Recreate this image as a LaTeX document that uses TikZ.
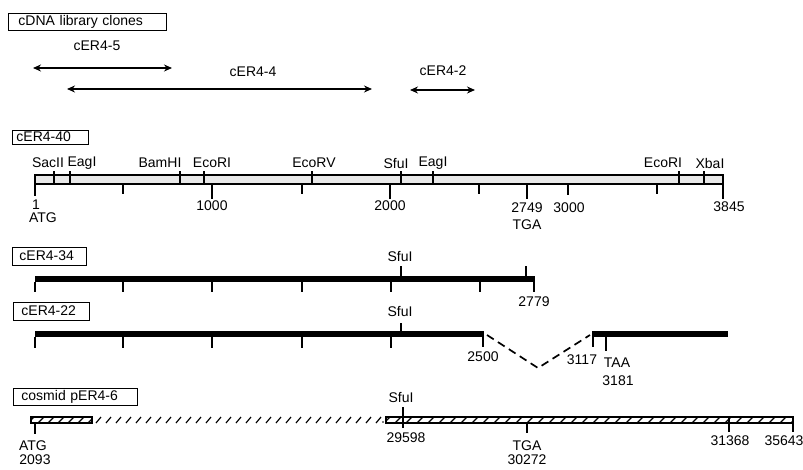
\documentclass[tikz,border=0pt]{standalone}
\usepackage{fontspec}
\setmainfont{Liberation Sans}
\usetikzlibrary{arrows.meta}
\begin{document}
\begin{tikzpicture}[x=1pt,y=-1pt,
  lbl/.style={font=\fontsize{14}{16}\selectfont, inner sep=0pt},
  tagbox/.style={draw, line width=0.9pt, font=\fontsize{14}{16}\selectfont, inner xsep=4pt, inner ysep=0pt, anchor=west, align=left},
  tk/.style={line width=1.5pt},
  clone/.style={line width=2pt, {Stealth[length=8pt,width=7pt]}-{Stealth[length=8pt,width=7pt]}},
  hatch/.style={line width=1.2pt},
]
\useasboundingbox (0,0) rectangle (803,469);

% ---------- cDNA library clones ----------
\node[tagbox, text width=150pt, minimum height=17pt] (lib) at (8,21.5) {\hspace*{6pt}cDNA library clones};
\node[lbl] (l45) at (97,46) {cER4-5};
\coordinate (a5l) at (33,68); \coordinate (a5r) at (172,68);
\draw[clone] (a5l) -- (a5r);
\node[lbl] (l44) at (253,72) {cER4-4};
\coordinate (a4l) at (67,89); \coordinate (a4r) at (372,89);
\draw[clone] (a4l) -- (a4r);
\node[lbl] (l42) at (443,71) {cER4-2};
\coordinate (a2l) at (410,90); \coordinate (a2r) at (475,90);
\draw[clone] (a2l) -- (a2r);

% ---------- cER4-40 ----------
\node[tagbox, text width=68pt, minimum height=14pt] (t40) at (12,137) {cER4-40};
\draw[line width=1.4pt, fill=gray!18] (35,175) rectangle (723,184);
\foreach \x in {54,70,180,204,312,401,433,679,704} \draw[tk] (\x,171) -- (\x,184);
\node[lbl] (sacII) at (48,163) {SacII};
\node[lbl] (eagI) at (82,163) {EagI};
\node[lbl] (bamHI) at (160,163) {BamHI};
\node[lbl] (ecoRI) at (212,163) {EcoRI};
\node[lbl] (ecoRV) at (314,163) {EcoRV};
\node[lbl] (sfuI) at (396,163) {SfuI};
\node[lbl] (eagIb) at (433,163) {EagI};
\node[lbl] (ecoRIb) at (663,163) {EcoRI};
\node[lbl] (xbaI) at (710,163) {XbaI};
\draw[tk] (35,175) -- (35,196);
\foreach \x in {123,302,479,657} \draw[tk] (\x,184) -- (\x,194);
\foreach \x in {212,390,527} \draw[tk] (\x,184) -- (\x,199);
\draw[tk] (568,184) -- (568,195);
\draw[tk] (723,175) -- (723,199);
\node[lbl] (n1) at (36,205) {1};
\node[lbl] (atg1) at (43,218) {ATG};
\node[lbl] (n1000) at (212,206) {1000};
\node[lbl] (n2000) at (390,206) {2000};
\node[lbl] (n2749) at (527,208) {2749};
\node[lbl] (tga1) at (527,225) {TGA};
\node[lbl] (n3000) at (569,208) {3000};
\node[lbl] (n3845) at (729,207) {3845};

% ---------- cER4-34 ----------
\node[tagbox, text width=66pt, minimum height=18pt] (t34) at (12,256) {\hspace*{3pt}cER4-34};
\fill (35,276) rectangle (534,282);
\node[lbl] (sfu34) at (400,256) {SfuI};
\draw[tk] (401,266) -- (401,276);
\draw[tk] (526,266) -- (526,276);
\foreach \x in {35,123,212,302,391,480} \draw[tk] (\x,282) -- (\x,292);
\draw[tk] (534,276) -- (534,292);
\node[lbl] (n2779) at (534,302) {2779};

% ---------- cER4-22 ----------
\node[tagbox, text width=68pt, minimum height=18pt] (t22) at (13,311) {\hspace*{4pt}cER4-22};
\fill (35,331) rectangle (483,337);
\fill (593,331) rectangle (728,337);
\node[lbl] (sfu22) at (400,311) {SfuI};
\draw[tk] (401,323) -- (401,331);
\foreach \x in {35,123,212,302,391} \draw[tk] (\x,337) -- (\x,348);
\draw[tk] (483,331) -- (483,347);
\draw[tk] (593,331) -- (593,347);
\draw[tk] (606,337) -- (606,351);
\coordinate (d1) at (487,335); \coordinate (d2) at (538,368); \coordinate (d3) at (590,335);
\draw[line width=1.7pt, dash pattern=on 8pt off 5pt] (d1) -- (d2) -- (d3);
\node[lbl] (n2500) at (483,357) {2500};
\node[lbl] (n3117) at (582,360) {3117};
\node[lbl] (taa) at (617,363) {TAA};
\node[lbl] (n3181) at (618,381) {3181};

% ---------- cosmid pER4-6 ----------
\node[tagbox, text width=116pt, minimum height=17pt] (tcos) at (13,397) {\hspace*{4pt}cosmid pER4-6};
\draw[line width=1.4pt] (31,417) rectangle (92,423);
\begin{scope}
  \clip (31,417) rectangle (92,423);
  \foreach \x in {28,38,...,98} \draw[hatch] (\x,423) -- (\x+6,417);
\end{scope}
\foreach \x in {96,106,...,376} \draw[hatch] (\x,423) -- (\x+5,417);
\fill (383,422) circle (0.8pt);
\draw[line width=1.4pt] (386,417) rectangle (793,423);
\begin{scope}
  \clip (386,417) rectangle (793,423);
  \foreach \x in {384,395,...,800} \draw[hatch] (\x,423) -- (\x+6,417);
\end{scope}
\draw[tk] (35,423) -- (35,434);
\node[lbl] (atg2) at (33,446) {ATG};
\node[lbl] (n2093) at (35,460) {2093};
\node[lbl] (sfucos) at (401,397) {SfuI};
\draw[tk] (403,407) -- (403,428);
\node[lbl] (n29598) at (406,438) {29598};
\draw[tk] (527,423) -- (527,433);
\node[lbl] (tga2) at (527,446) {TGA};
\node[lbl] (n30272) at (527,460) {30272};
\draw[tk] (729,417) -- (729,432);
\node[lbl] (n31368) at (730,441) {31368};
\draw[tk] (793,417) -- (793,432);
\node[lbl] (n35643) at (784,441) {35643};
\end{tikzpicture}
\end{document}
